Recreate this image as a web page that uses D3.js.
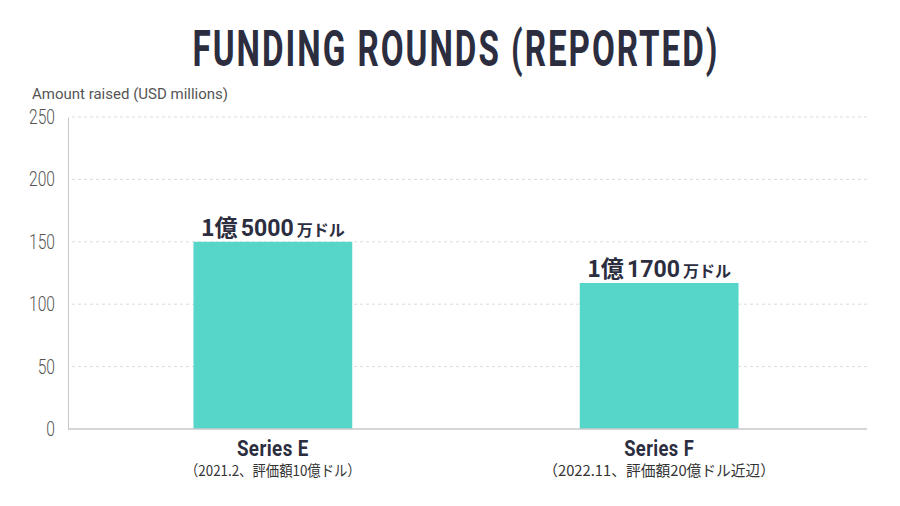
<!DOCTYPE html>
<html>
<head>
<meta charset="utf-8">
<script src="https://cdn.jsdelivr.net/npm/d3@7"></script>
<style>
  html, body { margin: 0; padding: 0; background: #fff; }
  svg { display: block; }
</style>
</head>
<body>
<div id="app"></div>
<script>
// chart data
const categories = ["Series E", "Series F"];
const subLabels = ["（2021.2、評価額10億ドル）", "（2022.11、評価額20億ドル近辺）"];
const amounts = [150, 117];
// value labels split into [text, size] pieces
const valueLabels = [
  [["1億", "big"], ["5000", "big"], ["万ドル", "small"]],
  [["1億", "big"], ["1700", "big"], ["万ドル", "small"]]
];
const yTicks = [0, 50, 100, 150, 200, 250];

const width = 900, height = 506;
const margin = { top: 117, right: 33, bottom: 77, left: 68 };
const ink = "#2c2e3f";
const teal = "#56d6c9";

const svg = d3.select("#app").append("svg")
  .attr("width", width)
  .attr("height", height);

// squeeze a text horizontally to a target width (condensed look)
function squeeze(sel, cx, cy, target) {
  const w = sel.node().getComputedTextLength();
  sel.attr("transform", `translate(${cx},${cy}) scale(${target / w},1)`);
}

const x = d3.scaleBand()
  .domain(categories)
  .range([margin.left - 2, width - margin.right - 1])
  .paddingInner(0.589)
  .paddingOuter(0.33);

const y = d3.scaleLinear()
  .domain([0, 250])
  .range([height - margin.bottom, margin.top]);

// title
const title = svg.append("text")
  .attr("text-anchor", "middle")
  .attr("font-family", "Roboto, 'DejaVu Sans', sans-serif")
  .attr("font-weight", 700)
  .attr("font-size", 50)
  .attr("letter-spacing", 3)
  .attr("fill", ink)
  .text("FUNDING ROUNDS (REPORTED)");
squeeze(title, 456, 66, 527);

// y axis caption
svg.append("text")
  .attr("x", 32).attr("y", 99)
  .attr("font-family", "Roboto, sans-serif")
  .attr("font-size", 15)
  .attr("fill", "#555")
  .text("Amount raised (USD millions)");

// grid
svg.append("g")
  .selectAll("line")
  .data(yTicks.filter(d => d > 0))
  .join("line")
    .attr("x1", margin.left + 4)
    .attr("x2", width - margin.right)
    .attr("y1", d => y(d)).attr("y2", d => y(d))
    .attr("stroke", "#dcdcdc")
    .attr("stroke-width", 1)
    .attr("stroke-dasharray", "3,3");

// y axis
const yAxis = svg.append("g")
  .attr("transform", `translate(${margin.left},0)`)
  .call(d3.axisLeft(y).tickValues(yTicks).tickSize(0).tickPadding(13));
yAxis.select(".domain").attr("stroke", "#c8c8cc");
yAxis.selectAll("text")
  .attr("font-family", "Roboto, sans-serif")
  .attr("font-weight", 300)
  .attr("font-size", 20)
  .attr("fill", "#555")
  .each(function() {
    const t = d3.select(this);
    const xx = +t.attr("x");
    t.attr("x", null).attr("transform", `translate(${xx},0) scale(0.78,1)`);
  });

// bars
svg.append("g")
  .selectAll("rect")
  .data(amounts)
  .join("rect")
    .attr("x", (d, i) => x(categories[i]))
    .attr("y", d => y(d))
    .attr("width", x.bandwidth())
    .attr("height", d => y(0) - y(d))
    .attr("fill", teal);

// x baseline
svg.append("line")
  .attr("x1", margin.left).attr("x2", width - margin.right)
  .attr("y1", y(0)).attr("y2", y(0))
  .attr("stroke", "#c8c8cc").attr("stroke-width", 1.5);

// value labels
valueLabels.forEach((parts, i) => {
  const cx = x(categories[i]) + x.bandwidth() / 2;
  const t = svg.append("text")
    .attr("text-anchor", "middle")
    .attr("font-weight", 700)
    .attr("fill", ink);
  parts.forEach(([s, size], j) => {
    t.append("tspan")
      .attr("dx", j === 0 ? 0 : 3)
      .attr("font-size", size === "big" ? 23 : 16)
      .attr("font-family", /^[0-9]+$/.test(s)
        ? "Roboto, sans-serif" : "'Noto Sans CJK JP', sans-serif")
      .text(s);
  });
  squeeze(t, cx, y(amounts[i]) - 6, 138);
});

// category labels
const cat = svg.append("g")
  .selectAll("g")
  .data(categories)
  .join("g")
    .attr("transform", d => `translate(${x(d) + x.bandwidth() / 2},0)`);

cat.append("text")
  .attr("text-anchor", "middle")
  .attr("font-family", "Roboto, sans-serif")
  .attr("font-weight", 700)
  .attr("font-size", 22)
  .attr("letter-spacing", 0.5)
  .attr("fill", ink)
  .text(d => d)
  .each(function(d, i) { squeeze(d3.select(this), 0, 456, i === 0 ? 72 : 70); });

cat.append("text")
  .attr("text-anchor", "middle")
  .attr("font-family", "'Noto Sans CJK JP', sans-serif")
  .attr("font-size", 15)
  .attr("fill", "#333")
  .text((d, i) => subLabels[i])
  .each(function(d, i) { squeeze(d3.select(this), 0, 476, i === 0 ? 176 : 232); });
</script>
</body>
</html>
